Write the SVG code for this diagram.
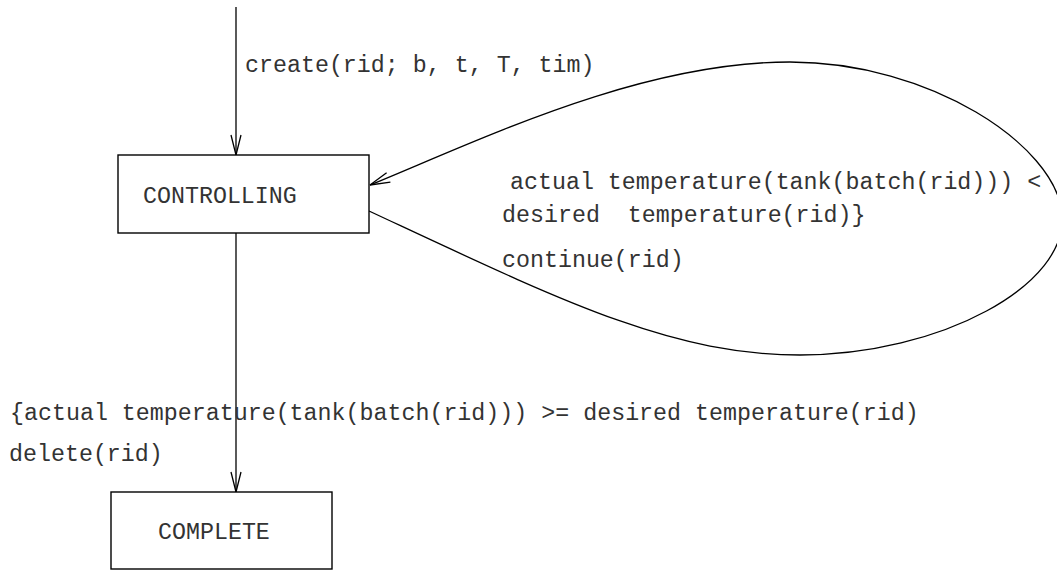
<svg xmlns="http://www.w3.org/2000/svg" width="1057" height="571" viewBox="0 0 1057 571">
  <style>
    .state { fill: #ffffff; stroke: #000000; stroke-width: 1.4; }
    .edge { fill: none; stroke: #000000; stroke-width: 1.3; }
    .lbl { font-family: "Liberation Mono", "Courier New", monospace; font-size: 23.3px; fill: #333333; }
  </style>
  <defs>
    <marker id="openArrow" markerUnits="userSpaceOnUse" markerWidth="24" markerHeight="14" viewBox="-22 -7 24 14" refX="0" refY="0" orient="auto">
      <path d="M-20,-5 L0,0 L-20,5" fill="none" stroke="#000000" stroke-width="1.3"/>
    </marker>
  </defs>
  <rect width="1057" height="571" fill="#ffffff"/>

  <!-- transitions -->
  <g id="connectors">
    <!-- initial transition into CONTROLLING -->
    <line class="edge" x1="236" y1="7" x2="236" y2="155" marker-end="url(#openArrow)"/>
    <!-- self loop on CONTROLLING -->
    <path class="edge" d="M369,211 C560,300 670,355 800,355 C940,355 1070,285 1062,213 C1055,145 930,62 790,62 C640,62 480,140 370,185" marker-end="url(#openArrow)"/>
    <!-- CONTROLLING to COMPLETE -->
    <line class="edge" x1="236" y1="233" x2="236" y2="492" marker-end="url(#openArrow)"/>
  </g>

  <g id="label-create">
    <text class="lbl" x="245" y="72">create(rid; b, t, T, tim)</text>
  </g>

  <g id="node-controlling">
    <rect class="state" x="118" y="155" width="251" height="78"/>
    <text class="lbl" x="143" y="203">CONTROLLING</text>
  </g>

  <g id="label-loop">
    <text class="lbl" x="510" y="189">actual temperature(tank(batch(rid))) &lt;</text>
    <text class="lbl" x="502" y="222" xml:space="preserve">desired  temperature(rid)}</text>
    <text class="lbl" x="502" y="267">continue(rid)</text>
  </g>

  <g id="label-complete">
    <text class="lbl" x="10" y="420">{actual temperature(tank(batch(rid))) &gt;= desired temperature(rid)</text>
    <text class="lbl" x="9" y="461">delete(rid)</text>
  </g>

  <g id="node-complete">
    <rect class="state" x="111" y="492" width="221" height="77"/>
    <text class="lbl" x="158" y="539">COMPLETE</text>
  </g>
</svg>
